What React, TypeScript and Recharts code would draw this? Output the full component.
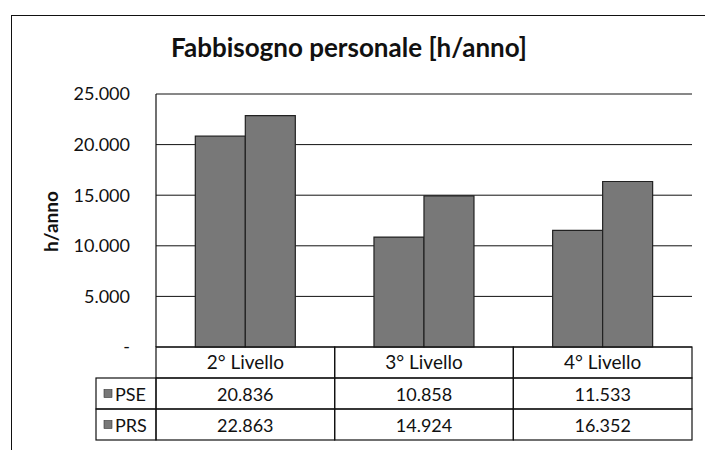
import React from "react";
import {
  BarChart,
  Bar,
  XAxis,
  YAxis,
  CartesianGrid,
  Label,
} from "recharts";

const categories = ["2° Livello", "3° Livello", "4° Livello"];
const pseValues = [20836, 10858, 11533];
const prsValues = [22863, 14924, 16352];
const seriesNames = ["PSE", "PRS"];
const yTicks = [0, 5000, 10000, 15000, 20000, 25000];

const data = categories.map((cat, i) => ({
  cat,
  PSE: pseValues[i],
  PRS: prsValues[i],
}));
const tableRows = [pseValues, prsValues];

const FONT = "Lato, 'Open Sans', sans-serif";
const BAR_FILL = "#787878";
const W = 705;
const H = 450;
const M = { top: 94, right: 13, bottom: 8, left: 0 };
const Y_W = 156;
const X_H = 95;
const HEADER_H = 31;
const ROW_H = 31;
const LEGEND_W = 60;

const fmt = (v: number) =>
  v === 0 ? "-" : String(v).replace(/\B(?=(\d{3})+(?!\d))/g, ".");

function TableTick(props: any) {
  const { x, y, payload, index } = props;
  const half =
    payload && payload.offset
      ? payload.offset
      : (W - M.left - Y_W - M.right) / categories.length / 2;
  const x0 = x - half;
  const w = half * 2;
  const line = { stroke: "#111", strokeWidth: 1.2 };
  return (
    <g>
      <rect x={x0} y={y} width={w} height={HEADER_H} fill="none" {...line} />
      <text
        x={x}
        y={y + HEADER_H / 2 + 6}
        textAnchor="middle"
        fontFamily={FONT}
        fontSize={19}
        fill="#111"
      >
        {payload.value}
      </text>
      {tableRows.map((row, r) => (
        <g key={r}>
          <rect
            x={x0}
            y={y + HEADER_H + r * ROW_H}
            width={w}
            height={ROW_H}
            fill="none"
            {...line}
          />
          <text
            x={x}
            y={y + HEADER_H + r * ROW_H + ROW_H / 2 + 7}
            textAnchor="middle"
            fontFamily={FONT}
            fontSize={18}
            fill="#111"
          >
            {fmt(row[index])}
          </text>
        </g>
      ))}
      {index === 0 &&
        seriesNames.map((name, r) => (
          <g key={name}>
            <rect
              x={x0 - LEGEND_W}
              y={y + HEADER_H + r * ROW_H}
              width={LEGEND_W}
              height={ROW_H}
              fill="none"
              {...line}
            />
            <rect
              x={x0 - LEGEND_W + 8}
              y={y + HEADER_H + r * ROW_H + ROW_H / 2 - 4}
              width={8}
              height={8}
              fill={BAR_FILL}
              stroke="#333"
              strokeWidth={0.6}
            />
            <text
              x={x0 - LEGEND_W + 19}
              y={y + HEADER_H + r * ROW_H + ROW_H / 2 + 7}
              fontFamily={FONT}
              fontSize={18}
              fill="#111"
            >
              {name}
            </text>
          </g>
        ))}
    </g>
  );
}

function YTitle(props: any) {
  const vb = props.viewBox || { x: 0, y: M.top, width: Y_W, height: 253 };
  const cx = vb.x + 50;
  const cy = vb.y + vb.height / 2 + 1;
  return (
    <text
      x={cx}
      y={cy}
      transform={`rotate(-90, ${cx}, ${cy})`}
      textAnchor="middle"
      dominantBaseline="central"
      fontFamily={FONT}
      fontWeight="bold"
      fontSize={19}
      fill="#111"
    >
      h/anno
    </text>
  );
}

export default function App() {
  return (
    <div
      style={{
        position: "absolute",
        left: 0,
        top: 0,
        width: W,
        height: H,
        background: "#fff",
      }}
    >
      <div
        style={{
          position: "absolute",
          left: 11,
          top: 15,
          width: W - 11,
          height: H - 15,
          borderTop: "1.5px solid #111",
          borderLeft: "1.5px solid #111",
        }}
      />
      <div
        style={{
          position: "absolute",
          left: 0,
          width: 698,
          top: 31,
          textAlign: "center",
          fontFamily: FONT,
          fontWeight: "bold",
          fontSize: 26,
          color: "#111",
        }}
      >
        Fabbisogno personale [h/anno]
      </div>
      <div style={{ position: "absolute", left: 0, top: 0 }}>
        <BarChart
          width={W}
          height={H}
          data={data}
          margin={M}
          barCategoryGap="22%"
          barGap={0}
        >
          <CartesianGrid
            vertical={false}
            stroke="#111"
            strokeWidth={1}
          />
          <XAxis
            dataKey="cat"
            height={X_H}
            axisLine={false}
            tickLine={false}
            tickSize={0}
            tickMargin={0}
            interval={0}
            tick={<TableTick />}
          />
          <YAxis
            width={Y_W}
            domain={[0, 25000]}
            ticks={yTicks}
            interval={0}
            tickFormatter={fmt}
            axisLine={{ stroke: "#111", strokeWidth: 1.2 }}
            tickLine={false}
            tickSize={0}
            tickMargin={26}
            tick={{ fontFamily: FONT, fontSize: 18, fill: "#111" }}
          >
            <Label content={<YTitle />} />
          </YAxis>
          <Bar
            dataKey="PSE"
            fill={BAR_FILL}
            stroke="#222"
            strokeWidth={1.2}
            isAnimationActive={false}
          />
          <Bar
            dataKey="PRS"
            fill={BAR_FILL}
            stroke="#222"
            strokeWidth={1.2}
            isAnimationActive={false}
          />
        </BarChart>
      </div>
    </div>
  );
}
